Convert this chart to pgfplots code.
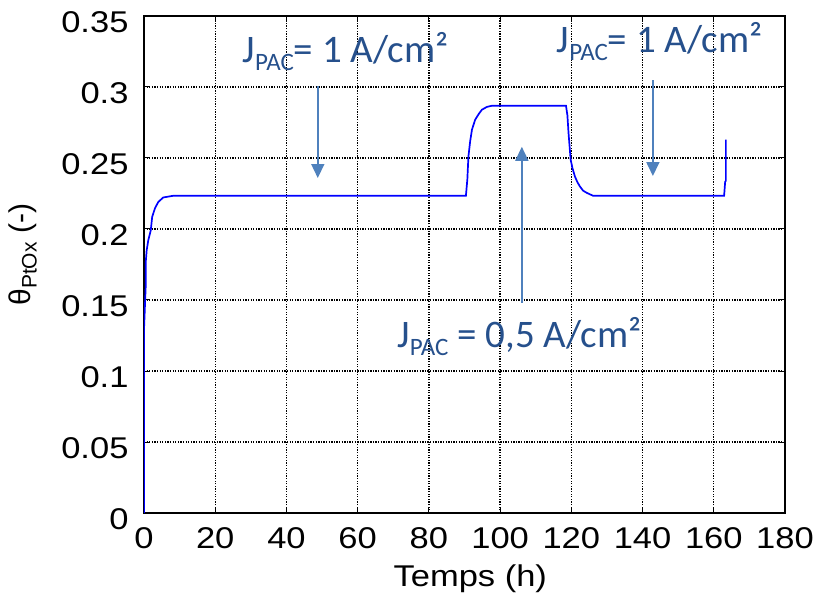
\documentclass[border=0pt]{standalone}
\usepackage{fontspec}
\setmainfont{Liberation Sans}
\newfontfamily\tickfont[FakeStretch=1.15]{Liberation Sans}
\newfontfamily\calib{Carlito}
\usepackage{pgfplots}
\pgfplotsset{compat=1.18}
\usetikzlibrary{arrows.meta}
\definecolor{anntext}{RGB}{38,80,140}
\definecolor{annarrow}{RGB}{79,129,189}
\newcommand{\jpac}{J\raisebox{-8pt}{\fontsize{25}{25}\selectfont PAC}}
\begin{document}
\begin{tikzpicture}
\begin{axis}[
  scale only axis,
  width=641pt, height=497pt,
  xmin=0, xmax=180, ymin=0, ymax=0.35,
  xtick={0,20,...,180},
  ytick={0,0.05,0.1,0.15,0.2,0.25,0.3,0.35},
  /pgf/number format/assume math mode=true,
  /pgf/number format/fixed, /pgf/number format/precision=2,
  tick label style={font=\tickfont\fontsize{30}{32}\selectfont},
  yticklabel style={xshift=-12pt, yshift=-6pt},
  xticklabel style={yshift=-11pt},
  grid=major,
  major grid style={black, line width=1.3pt, dash pattern=on 1.3pt off 1.3pt},
  axis line style={black, line width=1.8pt},
  tick align=inside, major tick length=5pt,
  every tick/.style={black, line width=1pt},
  xlabel={Temps (h)},
  ylabel={θ\textsubscript{PtOx} (-)},
  every axis x label/.style={at={(axis description cs:0.509,-0.133)}, anchor=center, font=\tickfont\fontsize{30}{32}\selectfont},
  every axis y label/.style={at={(axis description cs:-0.189,0.52)}, rotate=90, anchor=center, font=\fontsize{30}{32}\selectfont},
  clip=true,
]
\addplot[color={rgb,255:red,0;green,0;blue,255}, line width=1.7pt] coordinates {
(0,0) (0,0.129) (0.47,0.159) (0.47,0.176) (0.75,0.185) (1.2,0.192) (1.9,0.199)
(2.3,0.2086) (3.1,0.2147) (4.0,0.219) (5.4,0.2222) (6.8,0.2228) (8.2,0.2234)
(90.4,0.2234) (90.8,0.235) (91.1,0.251) (91.6,0.262) (92.1,0.270) (93.0,0.277)
(94.0,0.281) (94.9,0.284) (96.3,0.286) (97.7,0.2868)
(118.5,0.2868) (118.9,0.280) (119.2,0.268) (119.8,0.249) (120.3,0.243) (121,0.237)
(121.7,0.233) (122.4,0.230) (123.3,0.227) (124.3,0.2255) (126.1,0.2234)
(162.9,0.2234) (163.2,0.2333) (163.4,0.234) (163.4,0.263)
};
\draw[annarrow, line width=1.6pt, -{Triangle[length=14pt,width=13pt]}] (axis cs:48.8,0.3007) -- (axis cs:48.8,0.2359);
\draw[annarrow, line width=1.6pt, -{Triangle[length=14pt,width=13pt]}] (axis cs:106.1,0.1479) -- (axis cs:106.1,0.2579);
\draw[annarrow, line width=1.6pt, -{Triangle[length=14pt,width=13pt]}] (axis cs:142.9,0.3049) -- (axis cs:142.9,0.2373);
\node[anchor=base, text=anntext, font=\calib\fontsize{39}{40}\selectfont, inner sep=0pt] at (axis cs:56.6,0.3175) {\jpac= 1 A/cm²};
\node[anchor=base, text=anntext, font=\calib\fontsize{39}{40}\selectfont, inner sep=0pt] at (axis cs:144.8,0.3246) {\jpac= 1 A/cm²};
\node[anchor=base, text=anntext, font=\calib\fontsize{39}{40}\selectfont, inner sep=0pt] at (axis cs:105.4,0.1169) {\jpac{} = 0,5 A/cm²};
\end{axis}
\pgfresetboundingbox
\path (current axis.south west) ++(-144pt,-89pt) coordinate (bbA);
\path (current axis.north east) ++(44pt,16pt) coordinate (bbB);
\path (bbA) rectangle (bbB);
\end{tikzpicture}
\end{document}
